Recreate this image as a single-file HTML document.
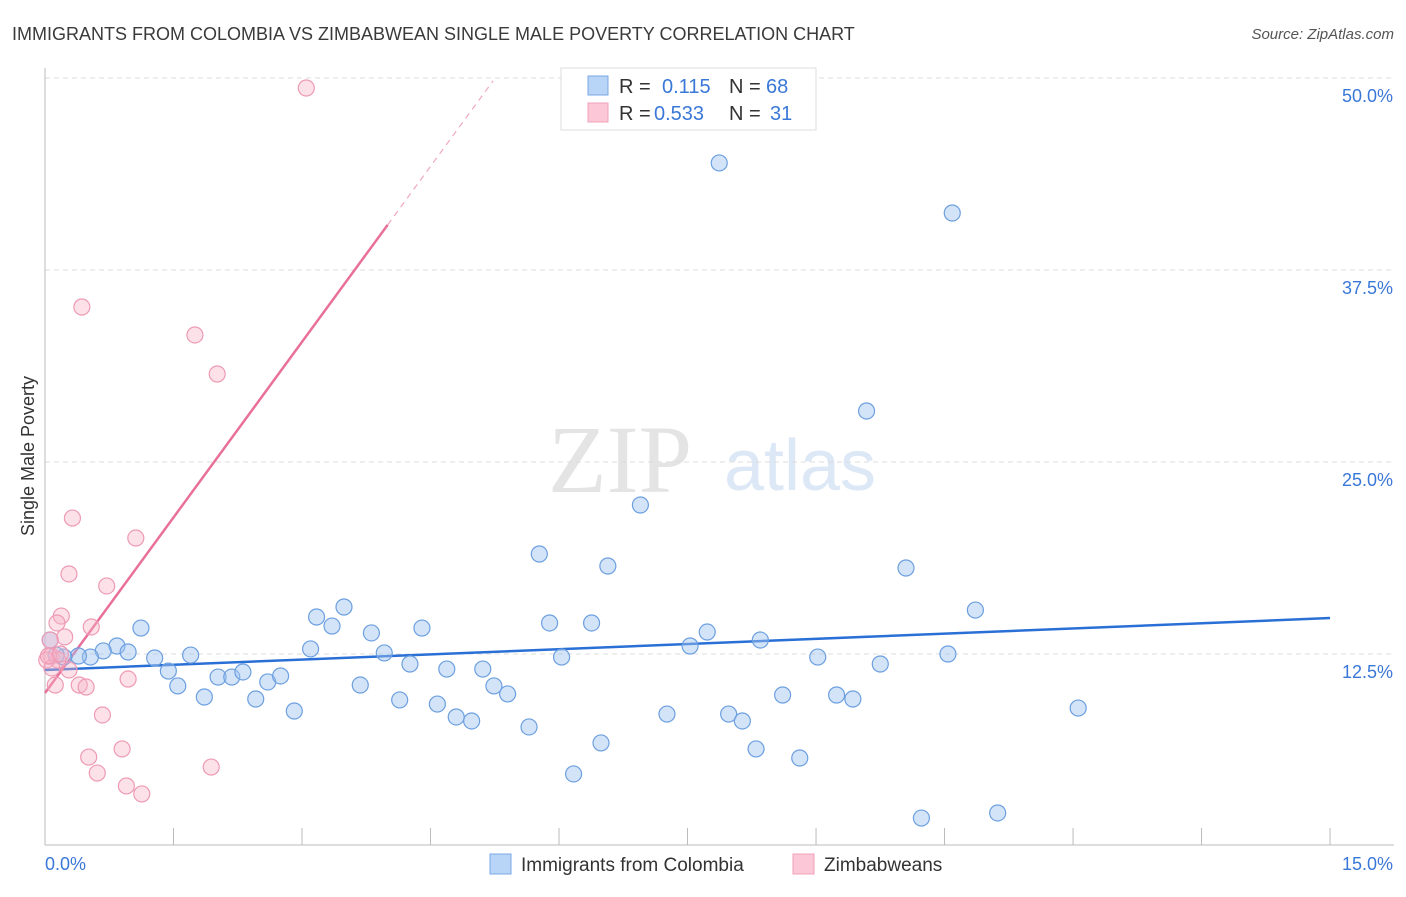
<!DOCTYPE html>
<html><head><meta charset="utf-8"><style>
body{margin:0;background:#fff;font-family:"Liberation Sans",sans-serif;}
svg text{font-family:"Liberation Sans",sans-serif;}
</style></head><body>
<svg id="chart" width="1406" height="892" xmlns="http://www.w3.org/2000/svg">
<text x="12" y="40" font-size="18" fill="#3a3a3a">IMMIGRANTS FROM COLOMBIA VS ZIMBABWEAN SINGLE MALE POVERTY CORRELATION CHART</text>
<text x="1394" y="39" font-size="15" fill="#555" text-anchor="end" font-style="italic">Source: ZipAtlas.com</text>
<text x="620" y="492" font-size="96" fill="#e4e4e4" font-family="Liberation Serif" text-anchor="middle" style="font-family:'Liberation Serif',serif">ZIP</text>
<text x="800" y="490" font-size="72" fill="#dde8f6" text-anchor="middle">atlas</text>
<g id="grid"></g><g id="axes"></g><g id="trends"></g><g id="pts"></g>
<text transform="translate(34,456) rotate(-90)" font-size="18" fill="#333" text-anchor="middle">Single Male Poverty</text>
<g>
<rect x="561" y="68" width="255" height="62" fill="#fff" stroke="#ddd"/>
<rect x="588" y="76" width="20" height="19" fill="#b8d4f6" stroke="#7aa8e6"/>
<rect x="588" y="103" width="20" height="19" fill="#fcc8d8" stroke="#f0a0b8"/>
<text x="619" y="93" font-size="20" fill="#333">R =</text><text x="662" y="93" font-size="20" fill="#3a78d8">0.115</text>
<text x="729" y="93" font-size="20" fill="#333">N =</text><text x="766" y="93" font-size="20" fill="#3a78d8">68</text>
<text x="619" y="120" font-size="20" fill="#333">R =</text><text x="654" y="120" font-size="20" fill="#3a78d8">0.533</text>
<text x="729" y="120" font-size="20" fill="#333">N =</text><text x="770" y="120" font-size="20" fill="#3a78d8">31</text>
</g>
<g>
<rect x="490" y="854" width="21" height="20" fill="#b8d4f6" stroke="#7aa8e6"/>
<text x="521" y="871" font-size="19" fill="#333">Immigrants from Colombia</text>
<rect x="793" y="854" width="21" height="20" fill="#fcc8d8" stroke="#f0a0b8"/>
<text x="824" y="871" font-size="19" fill="#333">Zimbabweans</text>
</g>
</svg>
<script>
const yTicks=[12.5,25,37.5,50];
const yTickLabels=["12.5%","25.0%","37.5%","50.0%"];
const xTickLabels=["0.0%","15.0%"];
const blueX=[7.87,10.59,9.59,6.95,5.77,6.57,10.05,10.86,5.89,6.38,3.49,3.17,3.35,3.81,4.40,1.12,0.84,0.97,0.68,0.53,0.39,0.22,0.13,0.06,1.28,1.44,1.70,1.55,1.86,2.02,2.18,2.31,2.46,2.60,2.75,2.91,3.10,3.68,3.96,4.14,4.26,4.58,4.69,4.80,4.98,5.11,5.24,5.40,5.65,6.03,6.17,6.49,7.26,7.53,7.73,7.98,8.14,8.30,8.35,8.61,8.81,9.02,9.24,9.43,9.75,10.23,10.54,11.12,12.06];
const blueY=[44.47,41.21,28.32,22.20,19.01,18.23,18.10,15.36,14.52,14.52,15.56,14.91,14.32,13.87,14.19,14.19,13.02,12.63,12.70,12.30,12.37,12.30,12.43,13.41,12.24,11.39,12.43,10.42,9.70,11.00,11.00,11.33,9.57,10.68,11.07,8.79,12.83,10.48,12.57,9.51,11.85,9.24,11.52,8.40,8.14,11.52,10.42,9.90,7.75,12.30,4.69,6.71,8.59,13.02,13.93,8.59,8.14,6.32,13.41,9.83,5.73,12.30,9.83,9.57,11.85,1.82,12.50,2.15,8.98];
const pinkX=[3.05,0.43,1.75,2.01,0.32,1.06,0.28,0.72,0.19,0.14,0.54,0.23,0.06,0.07,0.15,0.28,0.12,0.40,0.48,0.97,0.67,0.90,0.51,0.61,1.94,0.95,1.13,0.02,0.08,0.04,0.18];
const pinkY=[49.35,35.09,33.27,30.73,21.35,20.05,17.71,16.93,14.97,14.52,14.26,13.61,13.41,12.37,12.11,11.46,10.48,10.48,10.35,10.87,8.53,6.32,5.79,4.75,5.14,3.91,3.39,12.11,11.59,12.37,12.50];
const blueTrend=[11.46,14.84];
const pinkTrend=[9.96,7.62];
const NS="http://www.w3.org/2000/svg";
const X=v=>45+v*85.67, Y=v=>654-(v-12.5)*15.36;
function mk(p,t,a){const e=document.createElementNS(NS,t);for(const k in a)e.setAttribute(k,a[k]);document.getElementById(p).appendChild(e);return e;}
yTicks.forEach((t,i)=>{
 const l=mk('grid','line',{x1:45,x2:1394,y1:Y(t),y2:Y(t),stroke:'#ddd','stroke-dasharray':'5,4'});
 
 
 const tx=mk('grid','text',{x:1393,y:Y(t)+24,'font-size':18,fill:'#3a78d8','text-anchor':'end'});
 tx.textContent=yTickLabels[i];
 
 
});
mk('axes','line',{x1:45,x2:45,y1:68,y2:845,stroke:'#bbb'});
mk('axes','line',{x1:45,x2:1394,y1:845,y2:845,stroke:'#bbb'});
for(let i=0;i<=10;i++){const t=mk('axes','line',{x1:X(i*1.5),x2:X(i*1.5),y1:828,y2:845,stroke:'#bbb'});
 
 }
const xl0=mk('axes','text',{x:45,y:870,'font-size':18,fill:'#3a78d8'});xl0.textContent=xTickLabels[0];


const xl1=mk('axes','text',{x:1393,y:870,'font-size':18,fill:'#3a78d8','text-anchor':'end'});xl1.textContent=xTickLabels[1];


blueX.forEach((x,i)=>{const c=mk('pts','circle',{cx:X(x),cy:Y(blueY[i]),r:8,fill:'rgba(160,196,240,0.45)',stroke:'#6c9fe0','stroke-width':1.2});
 
 });
pinkX.forEach((x,i)=>{const c=mk('pts','circle',{cx:X(x),cy:Y(pinkY[i]),r:8,fill:'rgba(248,180,200,0.4)',stroke:'#ee9ab4','stroke-width':1.2});
 
 });
const bt=mk('trends','line',{x1:X(0),y1:Y(blueTrend[0]),x2:X(15),y2:Y(blueTrend[1]),stroke:'#2a6fd6','stroke-width':2.5});


const pe=4.0, pd=5.23;
const pt=mk('trends','line',{x1:X(0),y1:Y(pinkTrend[0]),x2:X(pe),y2:Y(pinkTrend[0]+pinkTrend[1]*pe),stroke:'#e8709a','stroke-width':2.5});


const pdl=mk('trends','line',{x1:X(pe),y1:Y(pinkTrend[0]+pinkTrend[1]*pe),x2:X(pd),y2:Y(pinkTrend[0]+pinkTrend[1]*pd),stroke:'#f0a8c0','stroke-width':1.2,'stroke-dasharray':'6,5'});


</script>
</body></html>
